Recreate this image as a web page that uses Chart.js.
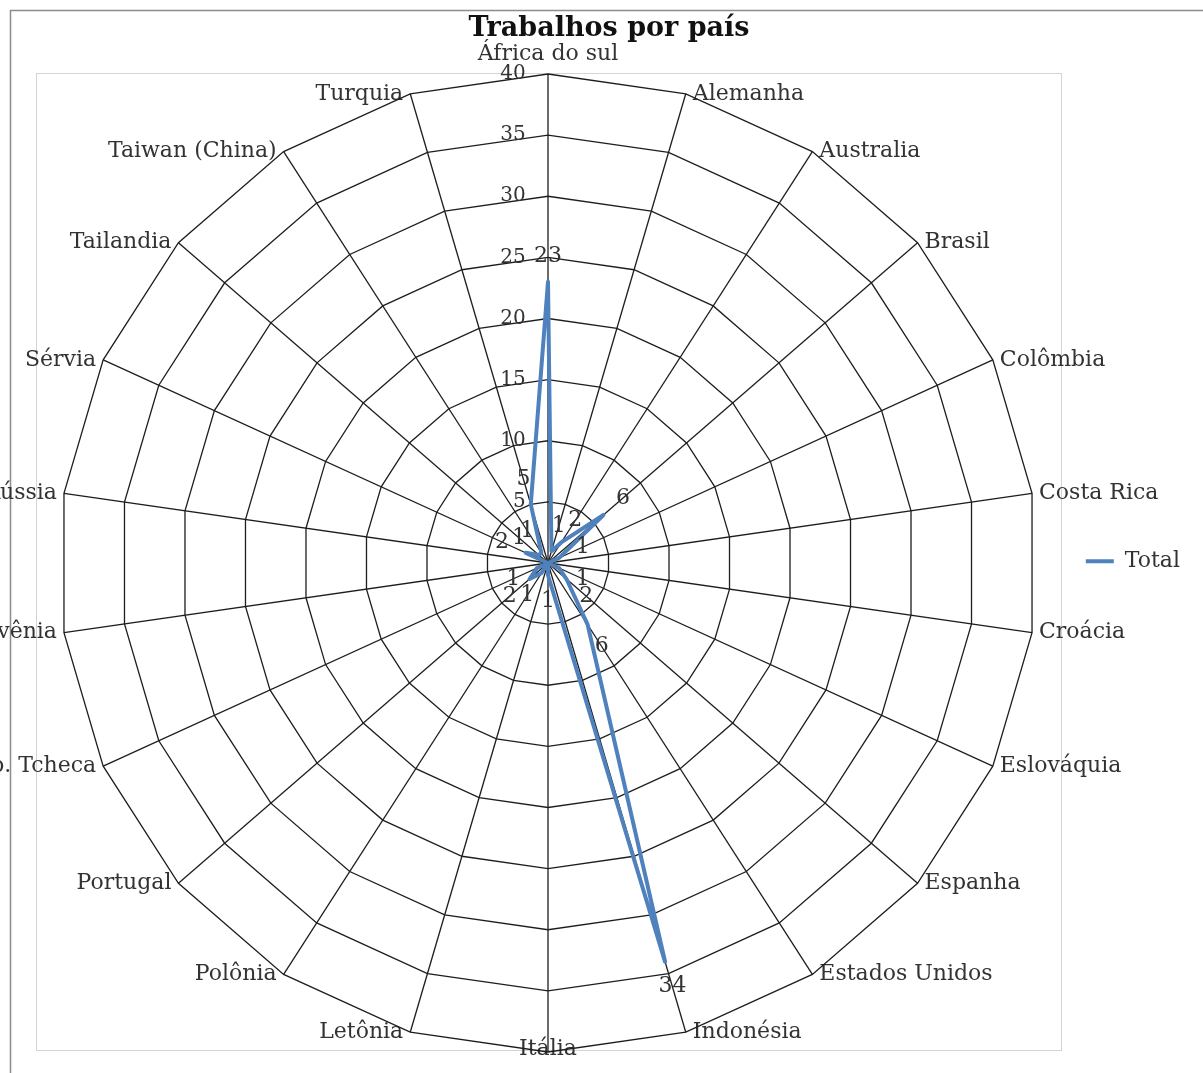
<!DOCTYPE html>
<html lang="pt">
<head>
<meta charset="utf-8">
<title>Trabalhos por país</title>
<script src="https://cdn.jsdelivr.net/npm/chart.js@4/dist/chart.umd.min.js"></script>
<style>
    html, body { margin: 0; padding: 0; background: #fff; overflow: hidden; }
    #wrap { position: relative; width: 1203px; height: 1073px; }
</style>
</head>
<body>
<div id="wrap"><canvas id="chart_paises"></canvas></div>
<script>
// data
const countries = [
    'África do sul', 'Alemanha', 'Australia', 'Brasil', 'Colômbia', 'Costa Rica',
    'Croácia', 'Eslováquia', 'Espanha', 'Estados Unidos', 'Indonésia', 'Itália',
    'Letônia', 'Polônia', 'Portugal', 'Rep. Tcheca', 'Eslovênia', 'Rússia',
    'Sérvia', 'Tailandia', 'Taiwan (China)', 'Turquia'
];
const totals = [23, 1, 2, 6, 1, 0, 0, 1, 2, 6, 34, 1, 0, 1, 2, 1, 0, 0, 2, 1, 1, 5];
const seriesName = 'Total';
const chartTitle = 'Trabalhos por país';
const axisMin = 0;
const axisMax = 40;
const axisStep = 5;

// look
const LINE_COLOR = '#4F81BD';
const TEXT_COLOR = '#333333';
const GRID_COLOR = '#1e1e1e';
const FONT = '"DejaVu Serif", serif';

// where Excel put the radar inside the picture
const CENTER_X = 548;
const CENTER_Y = 563;
const RADIUS = 489;
const LABEL_GAP = 7;
const LABEL_FLOOR = 1062;

Chart.defaults.font.family = FONT;
Chart.defaults.color = TEXT_COLOR;

// white page + the two Excel frames (chart area and plot area)
const frames = {
    id: 'frames',
    beforeDraw(chart) {
        const ctx = chart.ctx;
        ctx.save();
        ctx.fillStyle = '#fff';
        ctx.fillRect(0, 0, chart.width, chart.height);
        ctx.lineWidth = 1.5;
        ctx.strokeStyle = '#8c8c8c';
        ctx.strokeRect(10.5, 10.5, chart.width + 50, chart.height + 50);
        ctx.lineWidth = 1;
        ctx.strokeStyle = '#d4d4d4';
        ctx.strokeRect(36.5, 73.5, 1025, 977);
        ctx.restore();
    }
};

// value next to each point, pushed outwards along its spoke
const valueLabels = {
    id: 'valueLabels',
    afterDatasetsDraw(chart) {
        const ctx = chart.ctx;
        const scale = chart.scales.r;
        const meta = chart.getDatasetMeta(0);
        ctx.save();
        ctx.font = '22px ' + FONT;
        ctx.fillStyle = TEXT_COLOR;
        ctx.textAlign = 'center';
        ctx.textBaseline = 'middle';
        meta.data.forEach((pt, i) => {
            const v = totals[i];
            if (!v) {
                return;
            }
            const a = scale.getIndexAngle(i) - Math.PI / 2;
            ctx.fillText(String(v), pt.x + Math.cos(a) * 26, pt.y + Math.sin(a) * 26);
        });
        ctx.restore();
    }
};

// pin the radar to the reference geometry and lay the category labels out
// the Excel way: beside the vertex, vertically centred on it
function pinRadar(scale) {
    scale.xCenter = CENTER_X;
    scale.yCenter = CENTER_Y;
    scale.drawingArea = RADIUS;
    const items = scale._pointLabelItems || [];
    items.forEach((item, i) => {
        const p = scale.getPointPosition(i, RADIUS);
        const w = item.right - item.left;
        const h = item.bottom - item.top;
        let left, top;
        if (item.textAlign === 'center') {
            left = p.x - w / 2;
            top = p.y < CENTER_Y ? p.y - LABEL_GAP - h : p.y + LABEL_GAP;
            item.x = p.x;
        } else if (item.textAlign === 'left') {
            left = p.x + LABEL_GAP;
            top = p.y - h / 2;
            item.x = left;
        } else {
            left = p.x - LABEL_GAP - w;
            top = p.y - h / 2;
            item.x = left + w;
        }
        top = Math.min(top, LABEL_FLOOR - h);
        item.left = left;
        item.right = left + w;
        item.top = top;
        item.y = top;
        item.bottom = top + h;
    });
}

const ctx = document.getElementById('chart_paises');
new Chart(ctx, {
    type: 'radar',
    data: {
        labels: countries,
        datasets: [{
            label: seriesName,
            data: totals,
            borderColor: LINE_COLOR,
            backgroundColor: LINE_COLOR,
            borderWidth: 4,
            borderJoinStyle: 'round',
            borderCapStyle: 'round',
            pointRadius: 0,
            pointHoverRadius: 0,
            fill: false,
            clip: false
        }]
    },
    options: {
        responsive: true,
        maintainAspectRatio: false,
        animation: false,
        layout: {
            padding: { left: 28, right: 13, top: 0, bottom: 0 }
        },
        scales: {
            r: {
                min: axisMin,
                max: axisMax,
                afterFit: pinRadar,
                ticks: {
                    stepSize: axisStep,
                    showLabelBackdrop: false,
                    color: TEXT_COLOR,
                    font: { size: 20 },
                    // Excel draws the values left of the axis, not on it
                    callback: v => String(v) + ' '.repeat(String(v).length * 2 + 7)
                },
                grid: { color: GRID_COLOR, lineWidth: 1.3 },
                angleLines: { color: GRID_COLOR, lineWidth: 1.3 },
                pointLabels: {
                    color: TEXT_COLOR,
                    font: { size: 22 },
                    padding: 6
                }
            }
        },
        plugins: {
            title: {
                display: true,
                text: chartTitle,
                color: '#111',
                font: { size: 27, weight: 'bold' },
                padding: { top: 13, bottom: 4 }
            },
            legend: {
                position: 'right',
                fullSize: false,
                labels: {
                    usePointStyle: true,
                    pointStyle: 'line',
                    pointStyleWidth: 28,
                    color: TEXT_COLOR,
                    font: { size: 22 }
                }
            },
            tooltip: { enabled: false }
        }
    },
    plugins: [frames, valueLabels]
});
</script>
</body>
</html>
